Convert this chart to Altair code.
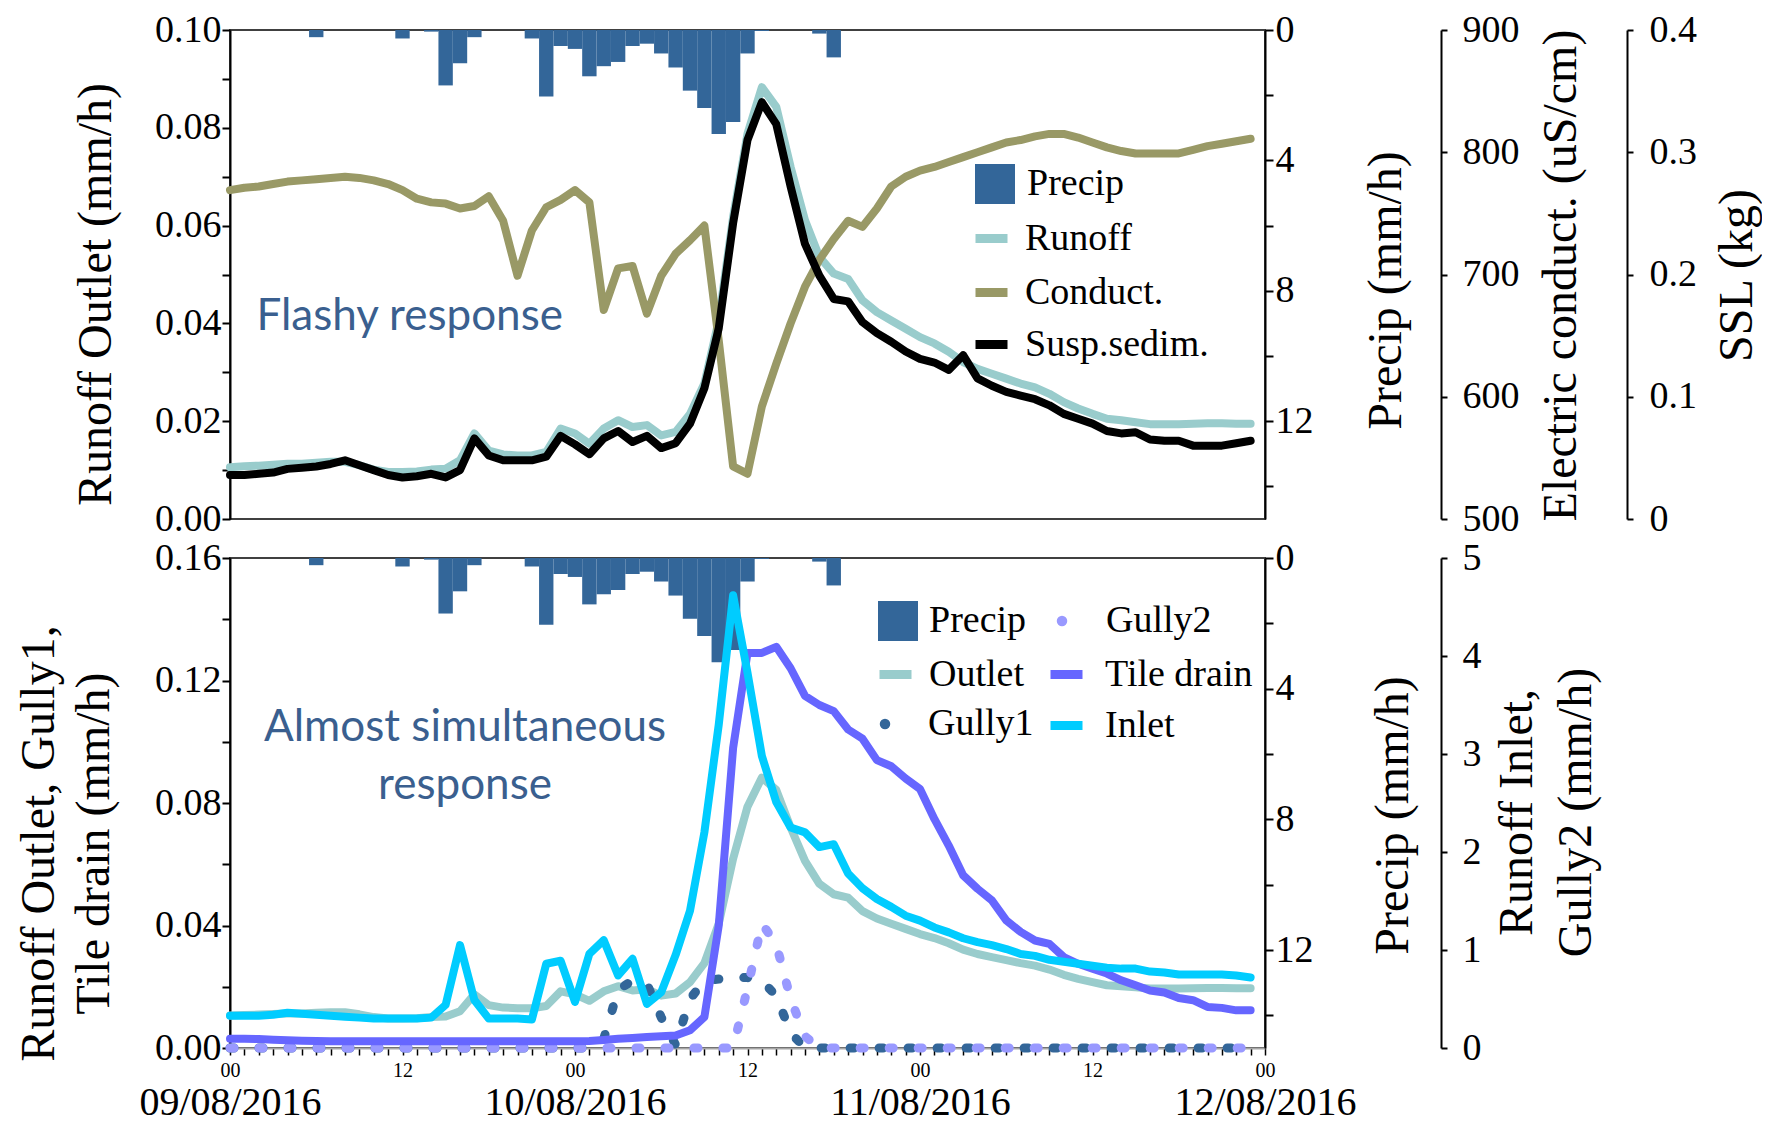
import altair as alt
import pandas as pd

# ---------------- data (hourly, 09/08/2016 00:00 -> 11/08/2016 23:00) ----------------
HOURS = list(range(72))

PRECIP = [0, 0, 0, 0, 0, 0, 0.22, 0, 0, 0, 0, 0,
          0.26, 0, 0.05, 1.70, 1.02, 0.22, 0, 0, 0, 0.26, 2.04, 0.49,
          0.58, 1.42, 1.11, 0.98, 0.49, 0.42, 0.72, 1.15, 1.86, 2.39, 3.19, 2.82,
          0.72, 0.03, 0, 0, 0, 0.11, 0.84, 0, 0, 0, 0, 0,
          0, 0, 0, 0, 0, 0, 0, 0, 0, 0, 0, 0,
          0, 0, 0, 0, 0, 0, 0, 0, 0, 0, 0, 0]

RUNOFF = [0.0106, 0.0108, 0.0109, 0.0111, 0.0113, 0.0113, 0.0115, 0.0117, 0.0117, 0.0110, 0.0101, 0.0096,
          0.0096, 0.0097, 0.0101, 0.0103, 0.0120, 0.0175, 0.0140, 0.0132, 0.0130, 0.0130, 0.0137, 0.0185,
          0.0175, 0.0154, 0.0185, 0.0202, 0.0188, 0.0192, 0.0171, 0.0178, 0.0215, 0.0277, 0.0406, 0.0618,
          0.0788, 0.0883, 0.0843, 0.0720, 0.0611, 0.0536, 0.0502, 0.0491, 0.0447, 0.0423, 0.0406, 0.0389,
          0.0372, 0.0359, 0.0342, 0.0321, 0.0307, 0.0297, 0.0287, 0.0277, 0.0269, 0.0256, 0.0239, 0.0226,
          0.0215, 0.0205, 0.0202, 0.0198, 0.0194, 0.0194, 0.0194, 0.0195, 0.0196, 0.0196, 0.0195, 0.0195]

CONDUCT = [769, 771, 772, 774, 776, 777, 778, 779, 780, 779, 777, 774,
           769, 762, 759, 758, 754, 756, 764, 744, 699, 736, 755, 761,
           769, 759, 671, 705, 707, 668, 699, 717, 728, 740, 646, 543,
           537, 592, 627, 660, 690, 712, 729, 744, 739, 754, 772, 780,
           785, 788, 792, 796, 800, 804, 808, 810, 813, 815, 815, 812,
           808, 804, 801, 799, 799, 799, 799, 802, 805, 807, 809, 811]

SSL = [0.036, 0.036, 0.037, 0.038, 0.041, 0.042, 0.043, 0.045, 0.048, 0.044, 0.040, 0.036,
       0.034, 0.035, 0.037, 0.034, 0.040, 0.066, 0.052, 0.048, 0.048, 0.048, 0.051, 0.068,
       0.061, 0.053, 0.066, 0.072, 0.063, 0.068, 0.058, 0.062, 0.078, 0.107, 0.156, 0.242,
       0.310, 0.341, 0.323, 0.272, 0.225, 0.199, 0.180, 0.178, 0.161, 0.152, 0.145, 0.137,
       0.131, 0.128, 0.122, 0.134, 0.115, 0.109, 0.104, 0.101, 0.098, 0.093, 0.086, 0.082,
       0.078, 0.072, 0.070, 0.071, 0.065, 0.064, 0.064, 0.060, 0.060, 0.060, 0.062, 0.064]

INLET = [0.33, 0.33, 0.33, 0.34, 0.36, 0.35, 0.34, 0.33, 0.32, 0.31, 0.30, 0.30,
         0.30, 0.30, 0.31, 0.44, 1.05, 0.49, 0.30, 0.30, 0.30, 0.29, 0.86, 0.89,
         0.47, 0.96, 1.10, 0.74, 0.91, 0.45, 0.57, 0.95, 1.40, 2.20, 3.30, 4.62,
         3.83, 2.98, 2.51, 2.25, 2.20, 2.05, 2.08, 1.78, 1.63, 1.52, 1.44, 1.35,
         1.30, 1.23, 1.18, 1.12, 1.08, 1.05, 1.01, 0.96, 0.94, 0.90, 0.88, 0.86,
         0.84, 0.82, 0.81, 0.81, 0.78, 0.77, 0.75, 0.75, 0.75, 0.75, 0.74, 0.72]

TILE = [0.0030, 0.0030, 0.0029, 0.0027, 0.0025, 0.0024, 0.0023, 0.0022, 0.0022, 0.0022, 0.0022, 0.0022,
        0.0022, 0.0022, 0.0022, 0.0022, 0.0022, 0.0022, 0.0022, 0.0022, 0.0022, 0.0022, 0.0022, 0.0022,
        0.0022, 0.0023, 0.0026, 0.0030, 0.0033, 0.0036, 0.0038, 0.0041, 0.0058, 0.0101, 0.0400, 0.0980,
        0.1290, 0.1290, 0.1310, 0.1240, 0.1150, 0.1120, 0.1100, 0.1040, 0.1010, 0.0940, 0.0920, 0.0880,
        0.0846, 0.0748, 0.0661, 0.0564, 0.0520, 0.0482, 0.0417, 0.0379, 0.0351, 0.0340, 0.0297, 0.0275,
        0.0259, 0.0243, 0.0221, 0.0205, 0.0188, 0.0181, 0.0163, 0.0156, 0.0134, 0.0131, 0.0123, 0.0123]

GULLY1 = [0, 0, 0, 0, 0, 0, 0, 0, 0, 0, 0, 0,
          0, 0, 0, 0, 0, 0, 0, 0, 0, 0, 0, 0,
          0, 0, 0.003, 0.019, 0.022, 0.021, 0.010, 0.001, 0.016, 0.022, 0.0225, 0.023,
          0.023, 0.022, 0.017, 0.005, 0, 0, 0, 0, 0, 0, 0, 0,
          0, 0, 0, 0, 0, 0, 0, 0, 0, 0, 0, 0,
          0, 0, 0, 0, 0, 0, 0, 0, 0, 0, 0, 0]

GULLY2 = [0, 0, 0, 0, 0, 0, 0, 0, 0, 0, 0, 0,
          0, 0, 0, 0, 0, 0, 0, 0, 0, 0, 0, 0,
          0, 0, 0, 0, 0, 0, 0, 0, 0, 0, 0, 0,
          0.61, 1.27, 1.06, 0.50, 0.12, 0, 0, 0, 0, 0, 0, 0,
          0, 0, 0, 0, 0, 0, 0, 0, 0, 0, 0, 0,
          0, 0, 0, 0, 0, 0, 0, 0, 0, 0, 0, 0]

HOUR_LABELS = ["00", "12"]
DATE_LABELS = ["09/08/2016", "10/08/2016", "11/08/2016", "12/08/2016"]
NOTE_TOP = ["Flashy response"]
NOTE_BOTTOM = ["Almost simultaneous", "response"]

df = pd.DataFrame({
    "hour": HOURS, "precip": PRECIP, "runoff": RUNOFF, "conduct": CONDUCT, "ssl": SSL,
    "inlet": INLET, "tile": TILE, "gully1": GULLY1, "gully2": GULLY2,
})

# ---------------- styles ----------------
SERIF = "Liberation Serif"
SANS = "Lato"
BAR_C = "#336699"
TEAL = "#99CCCC"
OLIVE = "#999966"
BLACK = "#000000"
CYAN = "#00CCFF"
PURPLE = "#6666FF"
G1_C = "#336699"
G2_C = "#9999FF"
NOTE_C = "#3A5F8F"
W, H1, H2 = 1035, 489, 490
LW = 8
DOTS = [4, 25]
LINE_SYM = 1024

xscale = alt.Scale(domain=[0, 72], nice=False, zero=False)


def leg(x, y, sym, size, offset, sw=0, fill=None):
    kw = dict(orient="none", legendX=x, legendY=y, title=None, symbolType=sym,
              symbolSize=size, symbolStrokeWidth=sw, labelOffset=offset,
              labelFont=SERIF, labelFontSize=38, labelColor="black",
              padding=0, labelLimit=500, symbolDash=[60, 0])
    if fill:
        kw["symbolFillColor"] = fill
    return alt.Legend(**kw)


def precip_layer(xaxis, legend, tx, ty):
    return alt.Chart(df).transform_filter("datum.precip > 0").transform_calculate(
        x0="datum.hour - 0.5", x1="datum.hour + 0.5", base="0", series="'Precip'"
    ).mark_bar().encode(
        x=alt.X("x0:Q", scale=xscale, axis=xaxis),
        x2="x1:Q",
        y=alt.Y("precip:Q", scale=alt.Scale(domain=[0, 15], reverse=True, nice=False),
                axis=alt.Axis(orient="right", values=list(range(0, 16, 2)),
                              labelExpr="datum.value % 4 == 0 ? datum.label : ''",
                              tickSize=8, labelPadding=2, title="Precip (mm/h)",
                              titleAngle=270, titleX=tx, titleY=ty,
                              titleAlign="center", titleBaseline="middle")),
        y2="base:Q",
        color=alt.Color("series:N", scale=alt.Scale(range=[BAR_C]), legend=legend),
    )


def line_layer(field, name, color, yscale, yaxis, legend, xaxis=None, dash=None, width=LW):
    kw = dict(strokeWidth=width, strokeCap="round", strokeJoin="round")
    if dash:
        kw["strokeDash"] = dash
    return alt.Chart(df).transform_calculate(series="'" + name + "'").mark_line(**kw).encode(
        x=alt.X("hour:Q", scale=xscale, axis=xaxis),
        y=alt.Y(field + ":Q", scale=yscale, axis=yaxis),
        color=alt.Color("series:N", scale=alt.Scale(range=[color]), legend=legend),
    )


# ---------------- top panel ----------------
top_xaxis = alt.Axis(labels=False, ticks=False, domainColor="#a6a6a6", title=None)
sc_top = alt.Scale(domain=[0, 0.1], nice=False)

t_bars = precip_layer(top_xaxis, leg(745, 134, "square", 1600, 12), 121, 260)
t_runoff = line_layer(
    "runoff", "Runoff", TEAL, sc_top,
    alt.Axis(orient="left", values=[round(i * 0.01, 2) for i in range(11)], format=".2f",
             labelExpr="round(datum.value * 100) % 2 == 0 ? datum.label : ''",
             tickSize=8, labelPadding=1, title="Runoff Outlet (mm/h)", titleAngle=270,
             titleX=-134, titleY=264, titleAlign="center", titleBaseline="middle"),
    leg(741, 188, "stroke", LINE_SYM, 13, 9))
t_cond = line_layer(
    "conduct", "Conduct.", OLIVE, alt.Scale(domain=[500, 900], nice=False, zero=False),
    alt.Axis(orient="right", offset=176, values=[500, 600, 700, 800, 900], tickSize=6,
             labelPadding=15, title="Electric conduct. (uS/cm)", titleAngle=270,
             titleX=120, titleY=245, titleAlign="center", titleBaseline="middle"),
    leg(741, 242, "stroke", LINE_SYM, 13, 9))
t_ssl = line_layer(
    "ssl", "Susp.sedim.", BLACK, alt.Scale(domain=[0, 0.4], nice=False),
    alt.Axis(orient="right", offset=362, values=[0, 0.1, 0.2, 0.3, 0.4], tickSize=6,
             labelPadding=16, labelExpr="datum.value == 0 ? '0' : format(datum.value, '.1f')",
             title="SSL (kg)", titleAngle=270, titleX=110, titleY=245,
             titleAlign="center", titleBaseline="middle"),
    leg(741, 294, "stroke", LINE_SYM, 13, 9))
t_note = alt.Chart(pd.DataFrame({"hour": [12.5], "value": [0.0387], "text": NOTE_TOP})).mark_text(
    font=SANS, fontSize=44, color=NOTE_C, align="center", baseline="alphabetic"
).encode(
    x=alt.X("hour:Q", scale=xscale, axis=None),
    y=alt.Y("value:Q", scale=sc_top, axis=None),
    text="text:N",
)

top = alt.layer(t_bars, t_runoff, t_cond, t_ssl, t_note).resolve_scale(
    y="independent", color="independent").properties(width=W, height=H1)

# ---------------- bottom panel ----------------
hour_axis = alt.Axis(
    orient="bottom", values=list(range(0, 73)), title=None, tickSize=7, tickWidth=1.5,
    labelExpr="datum.value % 24 == 0 ? '" + HOUR_LABELS[0] + "' : (datum.value % 12 == 0 ? '"
              + HOUR_LABELS[1] + "' : '')",
    labelFontSize=20, labelPadding=5, labelFlush=False, labelOverlap=False,
    domainColor="#a6a6a6")
date_axis = alt.Axis(
    orient="bottom", values=[0, 24, 48, 72], title=None, ticks=False, domain=False,
    labelExpr="[" + ",".join("'" + d + "'" for d in DATE_LABELS) + "][round(datum.value / 24)]",
    labelFontSize=40, labelPadding=34, labelFlush=False, labelOverlap=False, labelLimit=600)

sc_bot = alt.Scale(domain=[0, 0.16], nice=False)
sc_r = alt.Scale(domain=[0, 5], nice=False)

b_bars = precip_layer(hour_axis, leg(648, 43, "square", 1600, 11), 128, 257)
b_outlet = line_layer(
    "runoff", "Outlet", TEAL, sc_bot,
    alt.Axis(orient="left", values=[round(i * 0.02, 2) for i in range(9)], format=".2f",
             labelExpr="round(datum.value * 100) % 4 == 0 ? datum.label : ''",
             tickSize=8, labelPadding=1, title=["Runoff Outlet, Gully1,", "Tile drain (mm/h)"],
             titleLineHeight=55, titleAngle=270, titleX=-191, titleY=285,
             titleAlign="center", titleBaseline="middle"),
    leg(645, 96, "stroke", LINE_SYM, 13, 9), xaxis=date_axis)
b_g1 = line_layer("gully1", "Gully1", G1_C, sc_bot, None,
                  leg(636, 147, "circle", 110, 24, 0, G1_C), dash=DOTS, width=9)
b_g2 = line_layer(
    "gully2", "Gully2", G2_C, sc_r,
    alt.Axis(orient="right", offset=176, values=[0, 1, 2, 3, 4, 5], tickSize=6,
             labelPadding=15, title=["Runoff Inlet,", "Gully2 (mm/h)"], titleLineHeight=59,
             titleAngle=270, titleX=76, titleY=254, titleAlign="center",
             titleBaseline="middle"),
    leg(813, 44, "circle", 110, 25, 0, G2_C), dash=DOTS, width=9)
b_tile = line_layer("tile", "Tile drain", PURPLE, sc_bot, None,
                    leg(816, 96, "stroke", LINE_SYM, 18, 9))
b_inlet = line_layer("inlet", "Inlet", CYAN, sc_r, None,
                     leg(816, 147, "stroke", LINE_SYM, 18, 9))
b_note = alt.Chart(pd.DataFrame({"hour": [16.35], "value": [0.1002],
                                 "text": ["\n".join(NOTE_BOTTOM)]})).mark_text(
    font=SANS, fontSize=44, color=NOTE_C, align="center", baseline="alphabetic",
    lineBreak="\n", lineHeight=58
).encode(
    x=alt.X("hour:Q", scale=xscale, axis=None),
    y=alt.Y("value:Q", scale=sc_bot, axis=None),
    text="text:N",
)

bottom = alt.layer(b_bars, b_outlet, b_g1, b_g2, b_tile, b_inlet, b_note).resolve_scale(
    y="independent", color="independent").resolve_axis(x="independent").properties(
    width=W, height=H2)

chart = alt.vconcat(top, bottom, spacing=39, bounds="flush").resolve_scale(
    color="independent"
).properties(
    padding={"left": 6, "top": 2, "right": 0, "bottom": 0}, background="white"
).configure_axis(
    labelFont=SERIF, titleFont=SERIF, labelFontSize=38, titleFontSize=48,
    titleFontWeight="normal", labelColor="black", titleColor="black",
    domainColor="black", tickColor="black", domainWidth=2, tickWidth=2, grid=False,
    labelOverlap=False
).configure_view(stroke="#404040", strokeWidth=2)

chart.save("out.html", embed_options={"renderer": "svg", "actions": False})
